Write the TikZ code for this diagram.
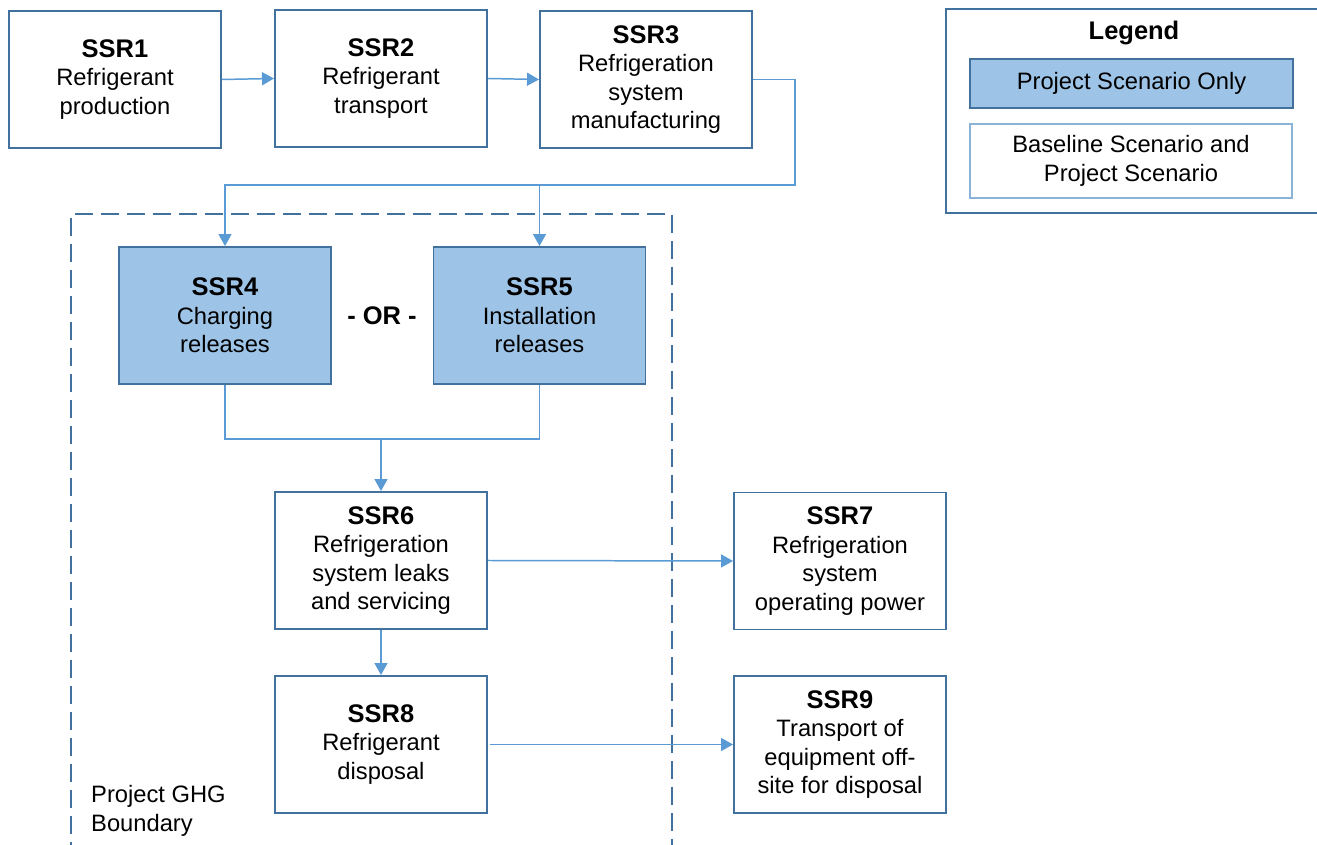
\documentclass[tikz,border=0pt]{standalone}
\usepackage{fontspec}
\setmainfont{Liberation Sans}
\usetikzlibrary{arrows.meta}
\definecolor{cEdge} {RGB}{65, 113, 156}
\definecolor{cProj} {RGB}{157, 195, 230}
\definecolor{cArrow}{RGB}{91, 155, 213}
\tikzset{
  B/.style     = {draw=cEdge, line width=1.1pt, text centered, align=center,
                  font=\fontsize{13.5}{16.2}\selectfont, inner sep=2pt},
  baseB/.style = {B, fill=white, minimum width=42.4mm, minimum height=27.4mm},
  projB/.style = {B, fill=cProj, minimum width=42.4mm, minimum height=27.4mm},
  L/.style     = {cArrow, line width=0.85pt},
  A/.style     = {L, -{Triangle[length=2.4mm, width=2.6mm]}},
  bnd/.style   = {draw=cEdge, line width=1.1pt, dash pattern=on 3.6mm off 1.6mm},
}
\newcommand{\ssr}[1]{{\fontsize{14.5}{16.2}\selectfont\bfseries #1}}

\begin{document}
\begin{tikzpicture}
\useasboundingbox (0,0) rectangle (26.34,-16.9);

%% project boundary (open at the bottom)
\draw[bnd] (1.42,-17.2) -- (1.42,-4.28) -- (13.44,-4.28) -- (13.44,-17.2);
\node[anchor=west, align=left, font=\fontsize{13.5}{16.2}\selectfont]
  (GHG) at (1.70,-16.22) {Project GHG\\Boundary};

%% upstream
\node[baseB] (S1) at (2.30,-1.59)  {\ssr{SSR1}\\Refrigerant\\production};
\node[baseB] (S2) at (7.62,-1.57)  {\ssr{SSR2}\\Refrigerant\\transport};
\node[baseB] (S3) at (12.92,-1.59) {\ssr{SSR3}\\Refrigeration\\system\\manufacturing};

%% charging / installation
\node[projB] (S4) at (4.50,-6.31)  {\ssr{SSR4}\\Charging\\releases};
\node[projB] (S5) at (10.79,-6.31) {\ssr{SSR5}\\Installation\\releases};
\node[font=\fontsize{14.5}{16.2}\selectfont\bfseries] (OR) at (7.64,-6.32) {- OR -};

%% operation and end of life
\node[baseB] (S6) at (7.62,-11.21)  {\ssr{SSR6}\\Refrigeration\\system leaks\\and servicing};
\node[baseB] (S7) at (16.80,-11.22) {\ssr{SSR7}\\Refrigeration\\system\\operating power};
\node[baseB] (S8) at (7.62,-14.89)  {\ssr{SSR8}\\Refrigerant\\disposal};
\node[baseB] (S9) at (16.80,-14.89) {\ssr{SSR9}\\Transport of\\equipment off-\\site for disposal};

%% junctions
\coordinate (J1) at (15.90,-3.70);
\coordinate (J2) at (7.62,-8.78);

%% connectors
\draw[A] (S1.east) -- (S2.west);
\draw[A] (S2.east) -- (S3.west);
\draw[A] (S3.east) -| (J1) -| (S4.north);
\draw[A] (S5.north |- J1) -- (S5.north);
\draw[L] (S4.south) |- (J2) -| (S5.south);
\draw[A] (J2) -- (S6.north);
\draw[A] (S6.east) -- (S7.west);
\draw[A] (S6.south) -- (S8.north);
\draw[A] ([xshift=0.5mm]S8.east) -- (S9.west);

%% legend
\draw[cEdge, line width=1.1pt] (18.92,-0.18) rectangle (26.38,-4.26);
\node[font=\fontsize{14.5}{16.2}\selectfont\bfseries] (LT) at (22.68,-0.66) {Legend};
\node[B, fill=cProj, minimum width=64.6mm, minimum height=9.8mm]
  (LP) at (22.63,-1.67) {Project Scenario Only};
\node[B, draw=cProj!80!cEdge, line width=0.6pt, minimum width=64.4mm, minimum height=14.8mm]
  (LB) at (22.62,-3.22) {Baseline Scenario and\\Project Scenario};

\end{tikzpicture}
\end{document}
